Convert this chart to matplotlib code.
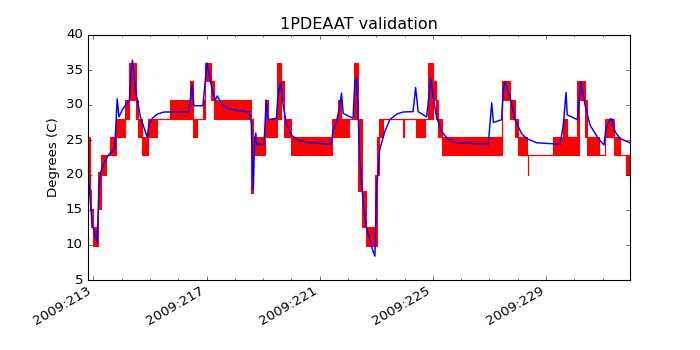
import matplotlib
matplotlib.use("Agg")
import matplotlib.pyplot as plt
from matplotlib.ticker import FixedLocator, MultipleLocator, FuncFormatter
import numpy as np

# telemetry (red): step segments, start day-of-year with low / high of the quantized band
tele_t = [212.79, 212.87, 212.93, 212.98, 213.17, 213.25, 213.45, 213.60, 213.78, 214.13,
          214.27, 214.49, 214.58, 214.70, 214.94, 215.26, 215.69, 216.43, 216.51, 216.65,
          216.87, 216.93, 217.14, 217.26, 218.58, 218.64, 219.05, 219.17, 219.50, 219.62,
          219.74, 220.00, 221.44, 221.65, 221.77, 222.03, 222.22, 222.36, 222.48, 222.65,
          222.95, 223.03, 223.10, 223.24, 223.95, 223.98, 224.42, 224.72, 224.83, 225.01,
          225.10, 225.19, 225.31, 227.45, 227.73, 227.90, 228.02, 228.33, 228.36, 228.38,
          229.26, 229.61, 229.73, 230.09, 230.18, 230.38, 230.44, 230.88, 231.09, 231.41,
          231.62, 231.83, 231.97]
tele_lo = [18.0, 15.2, 12.6, 9.9, 15.2, 20.0, 22.8, 22.8, 25.5, 28.0,
           30.7, 28.0, 25.5, 22.8, 25.5, 28.0, 28.0, 28.0, 25.5, 28.0,
           28.0, 33.4, 30.7, 28.0, 17.4, 22.8, 25.5, 25.5, 28.0, 30.7,
           25.5, 22.8, 25.5, 25.5, 25.5, 28.0, 28.0, 17.7, 12.6, 9.9,
           9.9, 20.0, 25.5, 28.0, 25.5, 28.0, 25.5, 28.0, 28.0, 30.7,
           28.0, 25.5, 22.8, 30.7, 28.0, 25.5, 22.8, 22.8, 20.0, 22.8,
           22.8, 22.8, 22.8, 22.8, 30.7, 25.5, 22.8, 22.8, 25.5, 22.8,
           22.8, 20.0, 20.0]
tele_hi = [25.5, 17.9, 15.2, 12.6, 20.5, 22.8, 22.8, 25.5, 28.0, 30.7,
           36.0, 30.7, 28.0, 25.5, 28.0, 28.0, 30.7, 33.4, 28.0, 28.0,
           30.7, 36.0, 33.4, 30.7, 28.0, 25.5, 30.7, 28.0, 36.0, 33.4,
           28.0, 25.5, 28.0, 30.7, 28.0, 28.0, 36.0, 28.0, 17.7, 12.6,
           20.0, 25.5, 28.0, 28.0, 28.0, 28.0, 28.0, 28.0, 36.0, 33.4,
           30.7, 28.0, 25.5, 33.4, 30.7, 28.0, 25.5, 22.8, 22.8, 22.8,
           25.5, 28.0, 25.5, 33.4, 33.4, 30.7, 25.5, 22.8, 28.0, 25.5,
           22.8, 22.8, 22.8]

# model prediction (blue)
model_t = [212.79, 212.86, 212.95, 213.13, 213.19, 213.25, 213.37, 213.54, 213.75, 213.84,
           213.90, 214.02, 214.19, 214.27, 214.34, 214.38, 214.49, 214.66, 214.90, 214.96,
           215.08, 215.26, 215.49, 216.37, 216.49, 216.55, 216.87, 216.92, 217.01, 217.11,
           217.22, 217.31, 217.38, 217.52, 217.75, 218.11, 218.52, 218.58, 218.65, 218.70,
           218.74, 218.77, 219.03, 219.11, 219.17, 219.47, 219.52, 219.62, 219.70, 219.82,
           220.00, 220.23, 220.65, 221.41, 221.47, 221.59, 221.71, 221.77, 221.83, 222.18,
           222.24, 222.30, 222.36, 222.42, 222.53, 222.65, 222.83, 222.95, 223.01, 223.12,
           223.30, 223.48, 223.72, 223.95, 224.30, 224.39, 224.48, 224.78, 224.93, 225.01,
           225.13, 225.31, 225.54, 225.84, 226.96, 227.08, 227.14, 227.43, 227.49, 227.55,
           227.73, 227.90, 228.14, 228.32, 228.67, 229.50, 229.61, 229.71, 229.75, 230.11,
           230.23, 230.38, 230.56, 230.85, 231.05, 231.12, 231.27, 231.33, 231.44, 231.62,
           231.97]
model_v = [21.0, 17.9, 13.1, 10.3, 17.9, 20.3, 21.7, 22.9, 23.7, 30.9,
           28.3, 29.3, 30.3, 30.6, 35.0, 36.4, 32.1, 28.3, 25.4, 27.1,
           28.1, 28.7, 29.0, 29.0, 32.9, 29.9, 29.9, 32.0, 36.0, 34.0,
           31.7, 30.7, 31.3, 30.2, 29.5, 29.2, 29.0, 27.4, 17.9, 25.0,
           26.0, 24.4, 24.4, 30.7, 27.9, 28.1, 31.2, 33.3, 30.2, 27.4,
           25.7, 25.0, 24.6, 24.4, 26.4, 27.6, 29.8, 31.7, 28.8, 28.1,
           33.3, 34.0, 28.3, 22.1, 16.4, 12.6, 9.8, 8.4, 17.9, 23.6,
           26.2, 27.9, 28.7, 29.0, 29.05, 32.5, 29.05, 28.3, 33.8, 31.2,
           28.3, 26.2, 25.1, 24.6, 24.4, 30.3, 27.5, 27.9, 32.1, 33.3,
           31.2, 27.9, 25.9, 25.2, 24.6, 24.4, 27.1, 31.8, 28.6, 27.9,
           33.3, 30.0, 27.1, 25.2, 24.3, 26.7, 28.0, 28.0, 26.2, 25.2,
           24.6]

major_days = [213, 217, 221, 225, 229]

plt.style.use("classic")
fig = plt.figure(figsize=(8.75, 4.375), dpi=80, facecolor="white")
ax = fig.add_subplot(111)

ax.fill_between(tele_t, tele_lo, tele_hi, step="post", color="r", lw=1)
ax.plot(model_t, model_v, color="b", lw=1.3)

ax.set_xlim(212.79, 231.97)
ax.set_ylim(5, 40)
ax.xaxis.set_major_locator(FixedLocator(major_days))
ax.xaxis.set_minor_locator(MultipleLocator(1))
ax.xaxis.set_major_formatter(FuncFormatter(lambda d, pos: "2009:%03d" % round(d)))
ax.set_title("1PDEAAT validation")
ax.set_ylabel("Degrees (C)")
fig.autofmt_xdate()
fig.subplots_adjust(left=0.125, right=0.9, top=0.9, bottom=0.2)

fig.savefig("out.png", dpi=80, facecolor="white")
